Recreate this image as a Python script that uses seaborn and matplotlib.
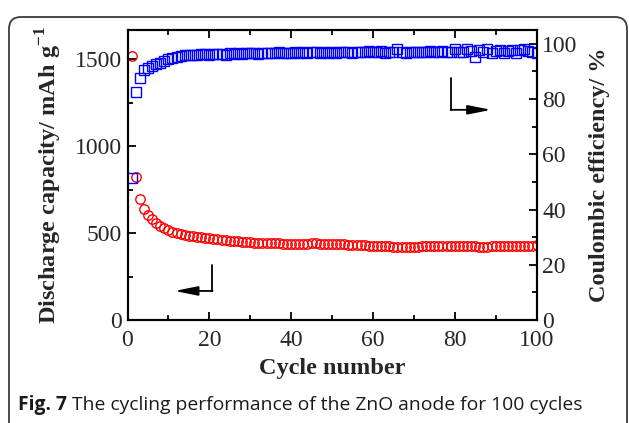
import matplotlib
matplotlib.use("Agg")
import matplotlib.pyplot as plt
from matplotlib.patches import FancyBboxPatch
from matplotlib.ticker import MultipleLocator
import numpy as np
import pandas as pd
import seaborn as sns

# values
cycles = np.arange(1, 101)
capacity = [
    1520, 820, 695, 638, 605, 580, 558, 542, 528, 516,
    506, 499, 493, 488, 484, 480, 477, 475, 472, 470,
    467, 464, 461, 458, 456, 454, 452, 450, 448, 446,
    445, 444, 443, 442, 441, 440, 440, 439, 439, 438,
    438, 438, 439, 439, 440, 440, 439, 439, 438, 437,
    436, 435, 434, 433, 432, 431, 430, 429, 428, 427,
    426, 425, 424, 423, 422, 422, 421, 421, 421, 422,
    422, 423, 424, 425, 426, 427, 427, 428, 428, 427,
    426, 425, 424, 423, 423, 422, 422, 422, 423, 423,
    424, 425, 425, 426, 426, 427, 427, 428, 428, 429,
]
efficiency = [
    51.5, 82.5, 87.8, 90.5, 91.4, 92.0, 92.6, 93.2, 93.7, 94.4,
    94.8, 95.3, 95.6, 95.8, 96.0, 96.1, 96.0, 96.2, 96.3, 96.1,
    96.3, 96.2, 96.4, 96.0, 96.5, 96.4, 96.6, 96.3, 96.7, 96.5,
    96.6, 96.4, 96.7, 96.5, 96.8, 96.6, 96.9, 96.5, 96.8, 96.7,
    96.9, 96.6, 97.0, 96.7, 96.9, 97.2, 96.8, 97.0, 96.8, 97.0,
    96.8, 97.1, 96.9, 97.0, 96.8, 97.2, 96.9, 97.0, 97.3, 96.9,
    97.0, 97.4, 96.8, 97.1, 97.0, 98.2, 97.0, 96.7, 97.2, 97.0,
    96.9, 97.2, 97.0, 97.3, 96.9, 97.1, 97.4, 97.0, 97.2, 98.0,
    97.1, 96.9, 98.3, 97.5, 95.4, 97.8, 97.2, 98.2, 96.8, 97.4,
    97.6, 96.8, 97.5, 97.9, 96.7, 97.6, 98.0, 97.4, 97.2, 96.8,
]

df = pd.DataFrame({"cycle": cycles, "capacity": capacity, "efficiency": efficiency})

sns.set_style("ticks")
plt.rcParams["font.family"] = ["Liberation Serif", "DejaVu Serif"]
plt.rcParams["mathtext.fontset"] = "custom"
plt.rcParams["mathtext.rm"] = "Liberation Serif:bold"
plt.rcParams["mathtext.bf"] = "Liberation Serif:bold"

fig = plt.figure(figsize=(6.29, 4.23), dpi=100)
ax = fig.add_axes([127.5 / 629, 1 - 320 / 423, 409 / 629, 290 / 423])
ax2 = ax.twinx()

sns.lineplot(data=df, x="cycle", y="capacity", ax=ax, estimator=None,
             color="red", marker="o", markersize=6.8, markerfacecolor="none",
             markeredgecolor="red", markeredgewidth=1.0, linestyle="none")
sns.lineplot(data=df, x="cycle", y="efficiency", ax=ax2, estimator=None,
             color="blue", marker="s", markersize=6.5, markerfacecolor="none",
             markeredgecolor="blue", markeredgewidth=1.0, linestyle="none")

ax.set_xlim(0, 100)
ax.set_ylim(0, 1667)
ax2.set_ylim(0, 105)

ax.xaxis.set_major_locator(MultipleLocator(20))
ax.xaxis.set_minor_locator(MultipleLocator(10))
ax.yaxis.set_major_locator(MultipleLocator(500))
ax.yaxis.set_minor_locator(MultipleLocator(250))
ax2.yaxis.set_major_locator(MultipleLocator(20))
ax2.yaxis.set_minor_locator(MultipleLocator(10))

for a in (ax, ax2):
    for s in a.spines.values():
        s.set_linewidth(1.5)
        s.set_color("black")
    a.tick_params(which="major", direction="in", length=6, width=1.3,
                  labelsize=17, pad=4, color="black")
    a.tick_params(which="minor", direction="in", length=3.5, width=1.3, color="black")
ax.tick_params(axis="x", which="both", top=True, pad=7)
ax.tick_params(axis="y", which="both", right=False)
ax2.tick_params(axis="y", which="both", left=False, right=True)

ax.set_xlabel("Cycle number", fontsize=17.5, fontweight="bold", labelpad=5)
ax.set_ylabel("Discharge capacity/ mAh g$^{-1}$", fontsize=17.5,
              fontweight="bold", labelpad=8)
ax2.set_ylabel("Coulombic efficiency/ %", fontsize=17.5, fontweight="bold",
               labelpad=8)

# direction arrows
ax.plot([20.7, 20.7], [316, 167], color="black", lw=1.3)
ax.annotate("", xy=(11.5, 167), xytext=(20.8, 167),
            arrowprops=dict(arrowstyle="-|>,head_length=1.0,head_width=0.2",
                            color="black", lw=1.3, mutation_scale=14,
                            shrinkA=0, shrinkB=0))
ax2.plot([79.1, 79.1], [87.7, 76.1], color="black", lw=1.3)
ax2.annotate("", xy=(88.9, 76.1), xytext=(79.0, 76.1),
             arrowprops=dict(arrowstyle="-|>,head_length=1.0,head_width=0.2",
                             color="black", lw=1.3, mutation_scale=14,
                             shrinkA=0, shrinkB=0))

# rounded frame and caption
frame = FancyBboxPatch((0.09, -0.3), 6.18, 4.36,
                       boxstyle="round,pad=0,rounding_size=0.12",
                       transform=fig.dpi_scale_trans, fill=False,
                       edgecolor="#3a3a3a", lw=1.3)
fig.patches.append(frame)

cap_font = ["Open Sans", "DejaVu Sans"]
t1 = fig.text(18 / 629, 1 - 405 / 423, "Fig. 7", family=cap_font,
              fontweight="bold", fontsize=13.9, va="center", ha="left",
              color="#1a1a1a")
fig.canvas.draw()
bb = t1.get_window_extent()
fig.text(bb.x1 / fig.bbox.width + 5 / 629, 1 - 405 / 423,
         "The cycling performance of the ZnO anode for 100 cycles",
         family=cap_font, fontsize=13.9, va="center", ha="left", color="#1a1a1a")

fig.savefig("out.png", dpi=100)
